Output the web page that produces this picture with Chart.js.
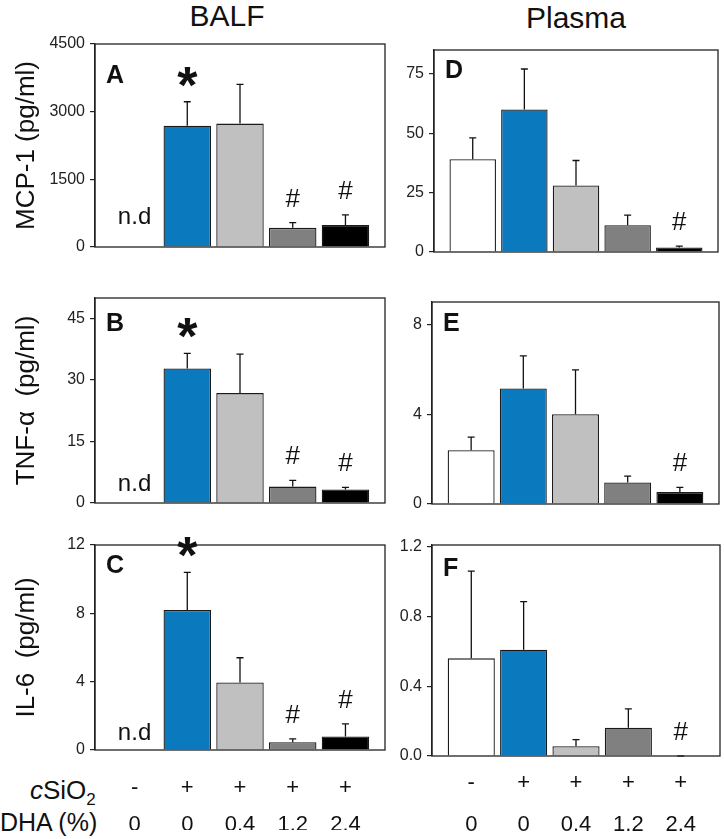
<!DOCTYPE html>
<html>
<head>
<meta charset="utf-8">
<script src="https://cdn.jsdelivr.net/npm/chart.js@4.4.1/dist/chart.umd.min.js"></script>
<style>
  body { margin: 0; background: #fff; width: 724px; height: 839px; position: relative; overflow: hidden;
         font-family: Arial, "Liberation Sans", sans-serif; color: #111; }
  canvas { position: absolute; left: 0; top: 0; }
  .lbl { position: absolute; white-space: nowrap; line-height: 1; }
</style>
</head>
<body>
<div class="lbl" style="left:227px;top:1px;font-size:30px;transform:translateX(-50%)">BALF</div>
<div class="lbl" style="left:576px;top:3px;font-size:30px;transform:translateX(-50%)">Plasma</div>
<div class="lbl" style="left:30px;top:777px;font-size:26px"><i>c</i>SiO<sub style="font-size:17px">2</sub></div>
<div class="lbl" style="left:0px;top:810px;font-size:25px">DHA (%)</div>
<script>
// groups
const sio2 = ['-', '+', '+', '+', '+'];
const dha = ['0', '0', '0.4', '1.2', '2.4'];

// BALF (null = n.d)
const mcpBalf = [null, 2690, 2735, 425, 490];
const mcpBalfSd = [null, 530, 870, 115, 220];
const tnfBalf = [null, 32.8, 26.8, 4.0, 3.3];
const tnfBalfSd = [null, 3.7, 9.5, 1.5, 0.5];
const il6Balf = [null, 8.2, 3.95, 0.45, 0.79];
const il6BalfSd = [null, 2.2, 1.45, 0.2, 0.74];

// Plasma
const mcpPlasma = [39, 60, 28, 11.3, 1.9];
const mcpPlasmaSd = [9, 17, 10.5, 4.2, 0.6];
const tnfPlasma = [2.4, 5.15, 4.0, 0.96, 0.53];
const tnfPlasmaSd = [0.58, 1.45, 1.98, 0.28, 0.21];
const il6Plasma = [0.56, 0.61, 0.056, 0.162, 0];
const il6PlasmaSd = [0.5, 0.275, 0.038, 0.108, 0];

// significance marks
const marksBalf = ['', '*', '', '#', '#'];
const marksPlasma = ['', '', '', '', '#'];

// y ticks
const mcpBalfTicks = [0, 1500, 3000, 4500];
const tnfBalfTicks = [0, 15, 30, 45];
const il6BalfTicks = [0, 4, 8, 12];
const mcpPlasmaTicks = [0, 25, 50, 75];
const tnfPlasmaTicks = [0, 4, 8];
const il6PlasmaTicks = [0, 0.4, 0.8, 1.2];

const barColors = ['#ffffff', '#0a79be', '#c0c0c0', '#808080', '#000000'];

const panels = [
  { letter: 'A', vals: mcpBalf, sd: mcpBalfSd, marks: marksBalf, ticks: mcpBalfTicks, max: 4500, dec: 0,
    box: [95, 44, 385, 247], title: 'MCP-1 (pg/ml)', letterDy: 21, ndDy: 32 },
  { letter: 'B', vals: tnfBalf, sd: tnfBalfSd, marks: marksBalf, ticks: tnfBalfTicks, max: 50, dec: 0,
    box: [95, 298, 385, 503], title: 'TNF-\u03b1  (pg/ml)', letterDy: 15, ndDy: 21 },
  { letter: 'C', vals: il6Balf, sd: il6BalfSd, marks: marksBalf, ticks: il6BalfTicks, max: 12, dec: 0,
    box: [95, 545, 385, 750], title: 'IL-6  (pg/ml)', letterDy: 10, ndDy: 19, xlab: { pad: 19, lh: 1.68 } },
  { letter: 'D', vals: mcpPlasma, sd: mcpPlasmaSd, marks: marksPlasma, ticks: mcpPlasmaTicks, max: 85, dec: 0,
    box: [434, 50, 718, 252], letterDy: 10 },
  { letter: 'E', vals: tnfPlasma, sd: tnfPlasmaSd, marks: marksPlasma, ticks: tnfPlasmaTicks, max: 9, dec: 0,
    box: [432, 302, 719, 504], letterDy: 11 },
  { letter: 'F', vals: il6Plasma, sd: il6PlasmaSd, marks: marksPlasma, ticks: il6PlasmaTicks, max: 1.21, dec: 1,
    box: [432, 545, 720, 756], letterDy: 13, xlab: { pad: 5, lh: 1.95 } }
];

function centerText(ctx, txt, x, y) {
  const m = ctx.measureText(txt);
  ctx.fillText(txt, x, y + (m.actualBoundingBoxAscent - m.actualBoundingBoxDescent) / 2);
}

const extras = {
  id: 'extras',
  afterDatasetsDraw(chart) {
    const p = chart.config.options.plugins.extras;
    const { ctx, chartArea: a } = chart;
    const xs = chart.scales.x, ys = chart.scales.y;
    ctx.save();
    // error bars
    ctx.strokeStyle = '#111';
    ctx.lineWidth = 1.3;
    p.vals.forEach((v, i) => {
      if (v == null) return;
      const x = xs.getPixelForValue(i);
      const y0 = ys.getPixelForValue(v);
      const y1 = ys.getPixelForValue(v + p.sd[i]);
      ctx.beginPath();
      ctx.moveTo(x, y0); ctx.lineTo(x, y1);
      ctx.moveTo(x - 3.5, y1); ctx.lineTo(x + 3.5, y1);
      ctx.stroke();
    });
    // frame
    ctx.strokeStyle = '#222';
    ctx.lineWidth = 1.3;
    ctx.strokeRect(a.left, a.top, a.right - a.left, a.bottom - a.top);
    // marks and n.d
    ctx.fillStyle = '#111';
    ctx.textAlign = 'center';
    p.vals.forEach((v, i) => {
      const x = xs.getPixelForValue(i);
      if (v == null) {
        ctx.font = '24px Arial, "Liberation Sans"';
        centerText(ctx, 'n.d', x, ys.getPixelForValue(0) - p.ndDy);
        return;
      }
      const mk = p.marks[i];
      if (!mk) return;
      const yTop = ys.getPixelForValue(v + p.sd[i]) - 25;
      ctx.font = mk === '*' ? 'bold 52px Arial, "Liberation Sans"' : '26px Arial, "Liberation Sans"';
      centerText(ctx, mk, x, yTop);
    });
    // panel letter
    ctx.textAlign = 'left';
    ctx.textBaseline = 'alphabetic';
    ctx.font = 'bold 25px Arial, "Liberation Sans"';
    ctx.fillText(p.letter, a.left + 11, a.top + p.letterDy + 18);
    ctx.restore();
  }
};

panels.forEach(p => {
  const cv = document.createElement('canvas');
  cv.width = 724; cv.height = 839;
  document.body.appendChild(cv);
  const yw = p.title ? p.box[0] : p.box[0] - 392;
  const xh = p.xlab ? 80 : 0;
  new Chart(cv.getContext('2d'), {
    type: 'bar',
    data: {
      datasets: [{
        data: p.vals.map((v, i) => ({ x: i, y: v })),
        backgroundColor: barColors,
        borderColor: '#1a1a1a',
        borderWidth: 1.3,
        borderSkipped: 'start',
        barPercentage: 0.9,
        categoryPercentage: 1
      }]
    },
    options: {
      responsive: false,
      animation: false,
      devicePixelRatio: 1,
      layout: { padding: { left: p.box[0] - yw, top: p.box[1], right: 724 - p.box[2], bottom: 839 - p.box[3] - xh } },
      plugins: {
        legend: { display: false },
        tooltip: { enabled: false },
        extras: p
      },
      scales: {
        x: {
          type: 'linear', min: -0.75, max: 4.75, offset: false,
          afterBuildTicks: s => { s.ticks = sio2.map((_, i) => ({ value: i })); },
          afterFit: s => { s.height = xh; },
          grid: { display: false, drawTicks: false, offset: false },
          border: { display: false },
          ticks: {
            display: !!p.xlab, autoSkip: false, maxRotation: 0, minRotation: 0,
            padding: p.xlab ? p.xlab.pad : 0,
            color: '#111',
            font: { size: 22, family: 'Arial, "Liberation Sans"', lineHeight: p.xlab ? p.xlab.lh : 1.2 },
            callback: v => [sio2[v], dha[v]]
          }
        },
        y: {
          min: 0, max: p.max,
          afterBuildTicks: s => { s.ticks = p.ticks.map(v => ({ value: v })); },
          afterFit: s => { s.width = yw; },
          grid: { drawOnChartArea: false, drawTicks: true, tickLength: 5, color: '#222', lineWidth: 1.2 },
          border: { color: '#222', width: 1.3 },
          ticks: {
            padding: 5, color: '#222',
            font: { size: 16, family: 'Arial, "Liberation Sans"' },
            callback: v => v.toFixed(p.dec)
          },
          title: {
            display: !!p.title, text: p.title || '', color: '#111',
            font: { size: 26, family: 'Arial, "Liberation Sans"' },
            padding: { top: 11, bottom: 0 }
          }
        }
      }
    },
    plugins: [extras]
  });
});
</script>
</body>
</html>
